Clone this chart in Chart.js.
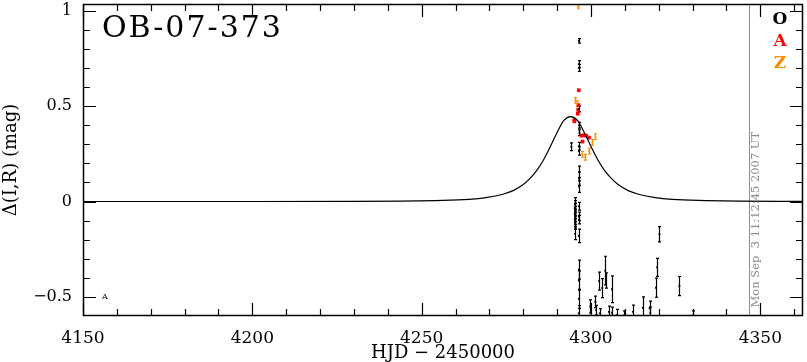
<!DOCTYPE html>
<html>
<head>
<meta charset="utf-8">
<script src="https://cdn.jsdelivr.net/npm/chart.js@4"></script>
<style>
  html, body { margin: 0; padding: 0; background: #fff; }
  #wrap { width: 807px; height: 362px; }
</style>
</head>
<body>
<div id="wrap"><canvas id="lc"></canvas></div>
<script>
// model light curve (HJD - 2450000, mag)
const modelDate = [4150, 4200, 4230, 4244, 4254, 4264, 4269, 4274, 4277, 4280, 4282, 4284, 4286, 4288, 4290, 4292,
  4294, 4296, 4298, 4300, 4302, 4304, 4306, 4308, 4311, 4314, 4319, 4324, 4334, 4344, 4358, 4365];
const modelMag = [0, 0.0001, 0.0005, 0.002, 0.005, 0.011, 0.02, 0.038, 0.057, 0.089, 0.121, 0.163, 0.219, 0.288, 0.362, 0.425,
  0.445, 0.425, 0.362, 0.288, 0.219, 0.163, 0.121, 0.089, 0.057, 0.038, 0.02, 0.011, 0.005, 0.002, 0.0007, 0.0005];

// O observatory
const oDate = [4294.2, 4296.4, 4296.4, 4296.4, 4296.4, 4296.5, 4296.6, 4296.4, 4296.4, 4296.5, 4296.5, 4296.5,
  4295.3, 4295.2, 4295.3, 4295.2, 4295.3, 4295.2, 4295.3, 4296.4, 4296.4, 4296.4, 4295.3, 4296.4,
  4296.4, 4296.4, 4296.4, 4296.4, 4299.8, 4301.3, 4301.5, 4302.4, 4302.6, 4303.3, 4304.2, 4304.4,
  4305.3, 4306.2, 4306.2, 4307.6, 4309.7, 4312.4, 4315.3, 4317.3, 4317.5, 4319.2, 4319.5, 4320.2, 4326.1, 4330.0];
const oMag = [0.287, 0.842, 0.72, 0.70, 0.485, 0.40, 0.36, 0.29, 0.265, 0.155, 0.12, 0.078,
  -0.015, -0.035, -0.05, -0.065, -0.08, -0.095, -0.11, -0.025, -0.078, -0.095, -0.17, -0.18,
  -0.357, -0.414, -0.51, -0.585, -0.55, -0.526, -0.569, -0.417, -0.586, -0.454, -0.362, -0.414,
  -0.578, -0.46, -0.583, -0.595, -0.598, -0.578, -0.557, -0.56, -0.583, -0.452, -0.345, -0.172, -0.443, -0.598];
const oErr = [0.02, 0.012, 0.018, 0.018, 0.015, 0.015, 0.015, 0.02, 0.022, 0.03, 0.035, 0.03,
  0.035, 0.04, 0.04, 0.04, 0.04, 0.035, 0.035, 0.02, 0.022, 0.022, 0.03, 0.035,
  0.05, 0.05, 0.05, 0.04, 0.035, 0.03, 0.025, 0.047, 0.025, 0.05, 0.075, 0.04,
  0.03, 0.07, 0.03, 0.03, 0.025, 0.035, 0.057, 0.038, 0.03, 0.05, 0.047, 0.04, 0.05, 0.025];

// A observatory
const aDate = [4296.4, 4296.3, 4296.2, 4296.1, 4295.1, 4295.1, 4297.2, 4297.9, 4298.6, 4299.4, 4297.5];
const aMag = [0.583, 0.505, 0.48, 0.46, 0.42, 0.427, 0.345, 0.347, 0.345, 0.335, 0.314];

// Z observatory
const zDate = [4296.3, 4295.4, 4295.8, 4297.4, 4298.3, 4299.4, 4300.4, 4301.3];
const zMag = [1.02, 0.53, 0.512, 0.247, 0.232, 0.265, 0.31, 0.34];
const zErr = [0.01, 0.015, 0.015, 0.015, 0.015, 0.015, 0.015, 0.015];

const nowDate = 4346.6;
const nowLabel = "Mon Sep  3 11:12:45 2007 UT";
const eventName = "OB-07-373";

const FONT = "'DejaVu Serif', serif";
const pts = (xs, ys) => xs.map((x, i) => ({ x: x, y: ys[i] }));

// error bars, ticks, frame and labels
const decor = {
  id: "decor",
  beforeDatasetsDraw(chart) {
    const { ctx, chartArea: a, scales: { x, y } } = chart;
    ctx.save();
    ctx.beginPath();
    ctx.rect(a.left, a.top, a.right - a.left, a.bottom - a.top);
    ctx.clip();
    // "now" line
    const nx = Math.round(x.getPixelForValue(nowDate)) + 0.5;
    ctx.strokeStyle = "#8c8c8c";
    ctx.lineWidth = 1;
    ctx.beginPath();
    ctx.moveTo(nx, a.top);
    ctx.lineTo(nx, a.bottom);
    ctx.stroke();
    chart.data.datasets.forEach((ds) => {
      if (!ds.err) return;
      ctx.strokeStyle = ds.borderColor;
      ctx.lineWidth = 1.2;
      ds.data.forEach((p, i) => {
        const px = Math.round(x.getPixelForValue(p.x)) + 0.5;
        const y1 = y.getPixelForValue(p.y - ds.err[i]);
        const y2 = y.getPixelForValue(p.y + ds.err[i]);
        ctx.beginPath();
        ctx.moveTo(px, y1); ctx.lineTo(px, y2);
        ctx.moveTo(px - 1.5, y1); ctx.lineTo(px + 1.5, y1);
        ctx.moveTo(px - 1.5, y2); ctx.lineTo(px + 1.5, y2);
        ctx.stroke();
      });
    });
    ctx.restore();
  },
  afterDraw(chart) {
    const { ctx, chartArea: a, scales: { x, y } } = chart;
    ctx.save();
    ctx.strokeStyle = "#000";
    ctx.lineWidth = 1.5;
    ctx.strokeRect(a.left + 0.5, a.top + 0.5, a.right - a.left - 1, a.bottom - a.top - 1);
    ctx.lineWidth = 1.2;
    x.ticks.forEach((t) => {
      const v = t.value;
      if (Math.abs(v / 10 - Math.round(v / 10)) > 1e-6) return;
      const len = Math.abs(v / 50 - Math.round(v / 50)) < 1e-6 ? 13 : 7;
      const px = Math.round(x.getPixelForValue(v)) + 0.5;
      ctx.beginPath();
      ctx.moveTo(px, a.bottom); ctx.lineTo(px, a.bottom - len);
      ctx.moveTo(px, a.top); ctx.lineTo(px, a.top + len);
      ctx.stroke();
    });
    y.ticks.forEach((t) => {
      const v = t.value;
      if (Math.abs(v * 10 - Math.round(v * 10)) > 1e-6) return;
      const len = Math.abs(v * 2 - Math.round(v * 2)) < 1e-6 ? 13 : 7;
      const py = Math.round(y.getPixelForValue(v)) + 0.5;
      ctx.beginPath();
      ctx.moveTo(a.left, py); ctx.lineTo(a.left + len, py);
      ctx.moveTo(a.right, py); ctx.lineTo(a.right - len, py);
      ctx.stroke();
    });
    // event name
    ctx.fillStyle = "#000";
    ctx.font = "30px " + FONT;
    ctx.letterSpacing = "2px";
    ctx.textAlign = "left";
    ctx.textBaseline = "alphabetic";
    ctx.fillText(eventName, a.left + 19, 37);
    ctx.letterSpacing = "0px";
    // observatory key
    ctx.font = "bold 17px " + FONT;
    ctx.textAlign = "center";
    [["O", "#000000"], ["A", "#ff0000"], ["Z", "#ff8c00"]].forEach((k, i) => {
      ctx.fillStyle = k[1];
      ctx.fillText(k[0], 780, 24 + i * 22);
    });
    // tiny marker label
    ctx.fillStyle = "#000";
    ctx.font = "8px " + FONT;
    ctx.fillText("A", x.getPixelForValue(4156.5), y.getPixelForValue(-0.497) + 3);
    // date stamp
    const nx = x.getPixelForValue(nowDate);
    ctx.translate(nx + 7, y.getPixelForValue(-0.555));
    ctx.rotate(-Math.PI / 2);
    ctx.fillStyle = "#8c8c8c";
    ctx.font = "11.5px " + FONT;
    ctx.textAlign = "left";
    ctx.textBaseline = "middle";
    ctx.fillText(nowLabel, 0, 0);
    ctx.restore();
  }
};

new Chart(document.getElementById("lc"), {
  type: "scatter",
  data: {
    datasets: [
      {
        type: "line",
        data: pts(modelDate, modelMag),
        borderColor: "#000",
        borderWidth: 1.2,
        pointRadius: 0,
        cubicInterpolationMode: "monotone",
        fill: false
      },
      {
        label: "O",
        data: pts(oDate, oMag),
        err: oErr,
        borderColor: "#000",
        backgroundColor: "#000",
        pointStyle: "rect",
        pointRadius: 1.3,
        borderWidth: 0
      },
      {
        label: "Z",
        data: pts(zDate, zMag),
        err: zErr,
        borderColor: "#ff8c00",
        backgroundColor: "#ff8c00",
        pointStyle: "rect",
        pointRadius: 1.3,
        borderWidth: 0
      },
      {
        label: "A",
        data: pts(aDate, aMag),
        borderColor: "#ff0000",
        backgroundColor: "#ff0000",
        pointStyle: "rect",
        pointRadius: 2.6,
        borderWidth: 0
      }
    ]
  },
  options: {
    responsive: true,
    maintainAspectRatio: false,
    animation: false,
    layout: { padding: { top: 0, right: 1, left: 0, bottom: 0 } },
    plugins: {
      legend: { display: false },
      tooltip: { enabled: false }
    },
    scales: {
      x: {
        type: "linear",
        min: 4150,
        max: 4362.6,
        grid: { display: false, drawTicks: false },
        border: { display: false },
        afterFit: (s) => { s.height = 46; s.paddingLeft = 0; s.paddingRight = 0; },
        ticks: {
          stepSize: 10,
          includeBounds: false,
          autoSkip: false,
          maxRotation: 0,
          padding: 12,
          color: "#000",
          font: { family: FONT, size: 17 },
          callback: (v) => (Math.abs(v / 50 - Math.round(v / 50)) < 1e-6 ? String(Math.round(v)) : "")
        },
        title: {
          display: true,
          text: "HJD \u2212 2450000",
          color: "#000",
          font: { family: FONT, size: 18, lineHeight: 1 },
          padding: { top: 0, bottom: 0 }
        }
      },
      y: {
        min: -0.6,
        max: 1.035,
        grid: { display: false, drawTicks: false },
        border: { display: false },
        afterFit: (s) => { s.width = 83; s.paddingTop = 0; s.paddingBottom = 0; },
        ticks: {
          stepSize: 0.1,
          includeBounds: false,
          autoSkip: false,
          padding: 11,
          color: "#000",
          font: { family: FONT, size: 16 },
          callback: (v) => {
            if (Math.abs(v * 2 - Math.round(v * 2)) > 1e-6) return "";
            const r = Math.round(v * 2) / 2;
            return r < 0 ? "\u2212" + String(-r) : String(r);
          }
        },
        title: {
          display: true,
          text: "\u0394(I,R) (mag)",
          color: "#000",
          font: { family: FONT, size: 18, lineHeight: 1 },
          padding: { top: 2, bottom: 0 }
        }
      }
    }
  },
  plugins: [decor]
});
</script>
</body>
</html>
